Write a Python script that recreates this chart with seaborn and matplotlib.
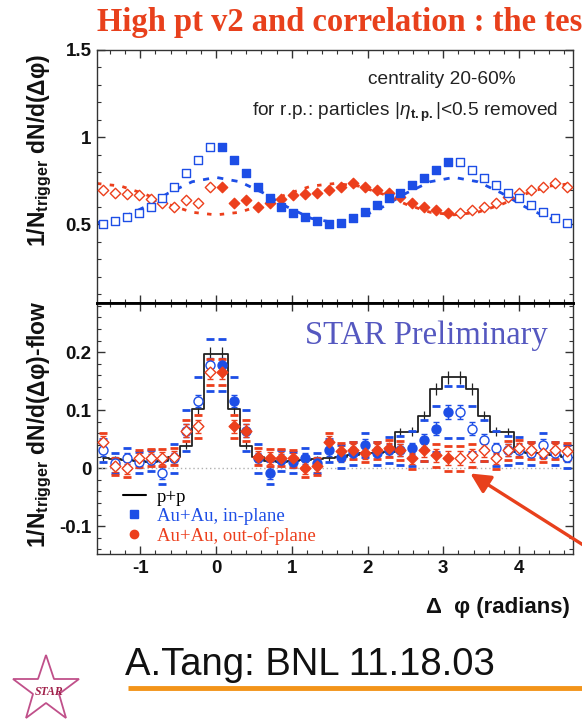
import numpy as np
import pandas as pd
import matplotlib
matplotlib.use("Agg")
import matplotlib.pyplot as plt
import seaborn as sns
from matplotlib.lines import Line2D
from matplotlib.ticker import MultipleLocator, FixedLocator, FixedFormatter

# ---------------- data (measured half 0..pi, 20 bins; rest are mirror images) -------------
top_inplane = [0.945, 0.87, 0.795, 0.715, 0.65, 0.60, 0.565, 0.545, 0.52, 0.505,
               0.51, 0.537, 0.572, 0.611, 0.651, 0.68, 0.726, 0.766, 0.811, 0.857]
top_outplane = [0.714, 0.623, 0.64, 0.60, 0.623, 0.648, 0.667, 0.675, 0.68, 0.695,
                0.712, 0.735, 0.712, 0.70, 0.68, 0.655, 0.625, 0.598, 0.582, 0.566]
flow_inplane = [0.51, 0.535, 0.60, 0.68, 0.745, 0.77, 0.745, 0.68, 0.60, 0.535, 0.51,
                0.535, 0.60, 0.68, 0.745, 0.77, 0.745, 0.68, 0.60, 0.535, 0.51]
flow_outplane = [0.735, 0.72, 0.675, 0.615, 0.57, 0.555, 0.57, 0.615, 0.675, 0.72, 0.735,
                 0.72, 0.675, 0.615, 0.57, 0.555, 0.57, 0.615, 0.675, 0.72, 0.735]

pp = [0.197, 0.103, 0.039, 0.02, 0.012, 0.01, 0.012, 0.014, 0.016, 0.018,
      0.02, 0.022, 0.026, 0.026, 0.028, 0.063, 0.063, 0.09, 0.137, 0.157]
pp_err = [0.012, 0.009, 0.006, 0.005, 0.005, 0.005, 0.005, 0.005, 0.005, 0.005,
          0.005, 0.005, 0.005, 0.006, 0.006, 0.007, 0.008, 0.009, 0.010, 0.011]
bot_inplane = [0.178, 0.116, 0.065, 0.017, -0.008, 0.014, 0.01, 0.017, 0.009, 0.031,
               0.02, 0.026, 0.04, 0.026, 0.031, 0.031, 0.034, 0.048, 0.068, 0.097]
bot_inplane_err = [0.012, 0.011, 0.011, 0.010, 0.010, 0.010, 0.010, 0.010, 0.010, 0.010,
                   0.010, 0.010, 0.010, 0.010, 0.010, 0.010, 0.010, 0.011, 0.011, 0.012]
bot_inplane_sys = [0.045, 0.042, 0.035, 0.025, 0.02, 0.018, 0.018, 0.018, 0.018, 0.02,
                   0.02, 0.02, 0.02, 0.02, 0.022, 0.025, 0.03, 0.035, 0.04, 0.045]
bot_outplane = [0.166, 0.072, 0.065, 0.02, 0.018, 0.018, 0.017, 0.0, 0.003, 0.046,
                0.029, 0.031, 0.026, 0.031, 0.034, 0.031, 0.017, 0.031, 0.022, 0.017]
bot_outplane_err = [0.012, 0.012, 0.011, 0.010, 0.010, 0.010, 0.010, 0.010, 0.010, 0.010,
                    0.010, 0.010, 0.010, 0.010, 0.010, 0.010, 0.010, 0.011, 0.011, 0.012]
bot_outplane_sys = [0.022, 0.02, 0.018, 0.015, 0.015, 0.015, 0.015, 0.015, 0.015, 0.015,
                    0.015, 0.015, 0.015, 0.015, 0.015, 0.016, 0.018, 0.018, 0.02, 0.022]

x_ticks = [-1, 0, 1, 2, 3, 4]
x_ticklabels = ["-1", "0", "1", "2", "3", "4"]
top_yticks = [0.5, 1.0, 1.5]
top_yticklabels = ["0.5", "1", "1.5"]
bot_yticks = [-0.1, 0.0, 0.1, 0.2]
bot_yticklabels = ["-0.1", "0", "0.1", "0.2"]
legend_labels = ["p+p", "Au+Au, in-plane", "Au+Au, out-of-plane"]

# ---------------- helpers -------------
N = 40
phi = -np.pi / 2 + (np.arange(N) + 0.5) * np.pi / 20
filled = (np.arange(N) >= 10) & (np.arange(N) < 30)
curve_phi = -np.pi / 2 + np.arange(21) * np.pi / 10


def mirror(v):
    v = list(v)
    return np.array(v[:10][::-1] + v + v[10:][::-1])


BLUE = "#1d4ee6"
RED = "#ec3f1c"

sns.set_theme(style="ticks")
plt.rcParams["font.family"] = ["Liberation Sans", "DejaVu Sans"]
plt.rcParams["mathtext.fontset"] = "custom"
plt.rcParams["mathtext.rm"] = "Liberation Sans"
plt.rcParams["mathtext.bf"] = "Liberation Sans:bold"
plt.rcParams["mathtext.it"] = "Liberation Sans:italic"

W, H = 582, 727
fig = plt.figure(figsize=(W / 100, H / 100), dpi=100)
fig.patch.set_facecolor("white")

L, R = 97 / W, 573 / W
y_top, y_mid, y_bot = 1 - 50 / H, 1 - 303 / H, 1 - 554 / H
ax1 = fig.add_axes([L, y_mid, R - L, y_top - y_mid])
ax2 = fig.add_axes([L, y_bot, R - L, y_mid - y_bot])

# ---------------- top panel -------------
df_top = pd.DataFrame({
    "phi": np.concatenate([phi, phi]),
    "val": np.concatenate([mirror(top_inplane), mirror(top_outplane)]),
    "series": ["in"] * N + ["out"] * N,
    "filled": np.concatenate([filled, filled]),
})
sns.lineplot(x=curve_phi, y=flow_inplane, ax=ax1, color=BLUE, lw=2.0,
             linestyle=(0, (2.2, 3.0)), zorder=2)
sns.lineplot(x=curve_phi, y=flow_outplane, ax=ax1, color=RED, lw=2.0,
             linestyle=(0, (1.6, 3.0)), zorder=2)
for ser, mk, col, sz in [("out", "D", RED, 28), ("in", "s", BLUE, 38)]:
    d = df_top[(df_top.series == ser) & df_top.filled]
    sns.scatterplot(data=d, x="phi", y="val", ax=ax1, marker=mk, s=sz,
                    color=col, edgecolor=col, linewidth=1.0, zorder=4)
    d = df_top[(df_top.series == ser) & ~df_top.filled]
    sns.scatterplot(data=d, x="phi", y="val", ax=ax1, marker=mk, s=sz,
                    color="white", edgecolor=col, linewidth=1.0, zorder=4)

# ---------------- bottom panel -------------
ax2.axhline(0, color="#b0b0b0", lw=1.0, ls=(0, (1, 2)), zorder=1)
pp_full = mirror(pp)
sns.lineplot(x=phi, y=pp_full, ax=ax2, color="#222222", lw=1.3,
             drawstyle="steps-mid", zorder=3)
ax2.errorbar(phi, pp_full, yerr=mirror(pp_err), fmt="none", ecolor="#222222",
             elinewidth=0.9, capsize=0, zorder=3)

series_bot = [
    ("in", bot_inplane, bot_inplane_err, bot_inplane_sys, "o", BLUE, 42),
    ("out", bot_outplane, bot_outplane_err, bot_outplane_sys, "D", RED, 30),
]
for name, vals, errs, syss, mk, col, sz in series_bot:
    v = mirror(vals)
    e = mirror(errs)
    s = mirror(syss)
    ax2.errorbar(phi, v, yerr=e, fmt="none", ecolor=col, elinewidth=1.0,
                 capsize=2.5, capthick=1.0, zorder=4)
    ax2.plot(phi, v + s, ls="none", marker="_", ms=6, mew=2.0, color=col, zorder=4)
    ax2.plot(phi, v - s, ls="none", marker="_", ms=6, mew=2.0, color=col, zorder=4)
    d = pd.DataFrame({"phi": phi, "val": v, "filled": filled})
    sns.scatterplot(data=d[d.filled], x="phi", y="val", ax=ax2, marker=mk, s=sz,
                    color=col, edgecolor=col, linewidth=1.0, zorder=5)
    sns.scatterplot(data=d[~d.filled], x="phi", y="val", ax=ax2, marker=mk, s=sz,
                    color="white", edgecolor=col, linewidth=1.0, zorder=5)

# legend
handles = [
    Line2D([], [], color="black", lw=1.5),
    Line2D([], [], ls="none", marker="s", ms=6, color=BLUE),
    Line2D([], [], ls="none", marker="o", ms=6, color=RED),
]
leg = ax2.legend(handles, legend_labels, loc="lower left", bbox_to_anchor=(0.035, 0.0),
                 frameon=False, handlelength=1.2, handletextpad=0.6, labelspacing=0.1,
                 borderaxespad=0.1, prop={"family": "Liberation Serif", "size": 13.5})
for t, c in zip(leg.get_texts(), ["black", BLUE, RED]):
    t.set_color(c)

# ---------------- axes styling -------------
for ax in (ax1, ax2):
    ax.set_xlim(-np.pi / 2, 3 * np.pi / 2)
    ax.set_xlabel("")
    ax.set_ylabel("")
    ax.xaxis.set_major_locator(FixedLocator(x_ticks))
    ax.xaxis.set_minor_locator(MultipleLocator(0.2))
    ax.tick_params(which="both", direction="in", top=True, right=True, color="#333333")
    ax.tick_params(which="major", length=6, width=1.0)
    ax.tick_params(which="minor", length=3, width=0.8)
    for sp in ax.spines.values():
        sp.set_color("#333333")
        sp.set_linewidth(1.0)

ax1.set_ylim(0.05, 1.5)
ax1.yaxis.set_major_locator(FixedLocator(top_yticks))
ax1.yaxis.set_major_formatter(FixedFormatter(top_yticklabels))
ax1.yaxis.set_minor_locator(MultipleLocator(0.1))
ax1.tick_params(axis="x", labelbottom=False)
ax1.spines["bottom"].set_linewidth(2.0)
ax1.spines["bottom"].set_color("black")

ax2.set_ylim(-0.148, 0.285)
ax2.yaxis.set_major_locator(FixedLocator(bot_yticks))
ax2.yaxis.set_major_formatter(FixedFormatter(bot_yticklabels))
ax2.yaxis.set_minor_locator(MultipleLocator(0.02))
ax2.xaxis.set_major_formatter(FixedFormatter(x_ticklabels))
ax2.spines["top"].set_linewidth(2.0)
ax2.spines["top"].set_color("black")

for ax in (ax1, ax2):
    for lab in ax.get_xticklabels() + ax.get_yticklabels():
        lab.set_fontweight("bold")
        lab.set_fontsize(13.5)
        lab.set_color("#111111")
    ax.tick_params(axis="both", pad=4)

# ---------------- overlay text / decorations -------------
ov = fig.add_axes([0, 0, 1, 1], zorder=10)
ov.set_xlim(0, W)
ov.set_ylim(H, 0)
ov.axis("off")
ov.patch.set_alpha(0)

ov.text(97, 31, "High pt v2 and correlation : the tes", family="Liberation Serif",
        fontweight="bold", fontsize=23.5, color="#e8401c", va="baseline", ha="left")

ov.text(368, 80, "centrality 20-60%", fontsize=13.8, color="#222222", va="center", ha="left")
ov.text(252, 112, r"for r.p.: particles $|\eta_{\mathbf{t.p.}}|$<0.5 removed", fontsize=13.8,
        color="#222222", va="center", ha="left")

ov.text(305, 336, "STAR Preliminary", family="Liberation Serif", fontsize=23.5,
        color="#5558c0", va="center", ha="left")

ov.text(40, 150, r"1/N$_{\mathbf{trigger}}$ dN/d(Δφ)", rotation=90,
        fontsize=16.5, fontweight="bold", va="center", ha="center", color="#111111")
ov.text(40, 424, r"1/N$_{\mathbf{trigger}}$ dN/d(Δφ)-flow", rotation=90,
        fontsize=16.5, fontweight="bold", va="center", ha="center", color="#111111")

ov.text(570, 607, "Δ  φ (radians)", fontsize=16, fontweight="bold", va="center",
        ha="right", color="#111111")

ov.annotate("", xy=(468, 472), xytext=(610, 562),
            arrowprops=dict(arrowstyle="-|>,head_length=1.0,head_width=0.5",
                            color="#e8401c", lw=2.4))

ov.text(125, 675, "A.Tang: BNL 11.18.03", fontsize=27.5, color="#111111",
        va="baseline", ha="left")
ov.plot([128, 582], [688, 688], color="#f39419", lw=3.5, solid_capstyle="butt")

ov.plot([46], [690], marker="*", ms=50, mfc="none", mec="#c0508a", mew=1.3)
ov.text(49, 692, "STAR", family="Liberation Serif", fontstyle="italic", fontweight="bold",
        fontsize=8.5, color="#a0204a", va="center", ha="center")

fig.savefig("out.png", dpi=100, facecolor="white")
